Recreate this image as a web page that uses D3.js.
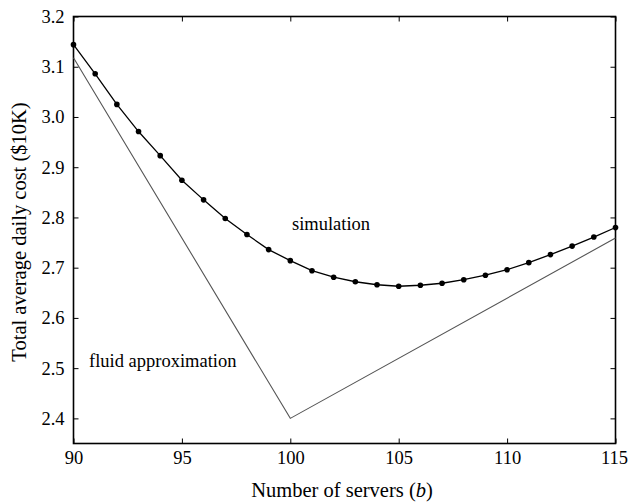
<!DOCTYPE html>
<html>
<head>
<meta charset="utf-8">
<script src="https://cdn.jsdelivr.net/npm/d3@7"></script>
<style>
html,body{margin:0;padding:0;background:#fff;}
svg{display:block;}
text{font-family:"Liberation Serif","Times New Roman",serif;fill:#000;}
</style>
</head>
<body>
<svg id="chart" width="628" height="503"></svg>
<script>
const simX = [90,91,92,93,94,95,96,97,98,99,100,101,102,103,104,105,106,107,108,109,110,111,112,113,114,115];
const simY = [3.144,3.086,3.025,2.971,2.923,2.874,2.835,2.798,2.766,2.736,2.714,2.694,2.681,2.672,2.666,2.663,2.665,2.669,2.676,2.685,2.696,2.710,2.726,2.743,2.761,2.780];
const fluidX = [90,100,115];
const fluidY = [3.118,2.400,2.759];
const xTicks = [90,95,100,105,110,115];
const yTicks = [2.4,2.5,2.6,2.7,2.8,2.9,3.0,3.1,3.2];
const xLabel = "Number of servers (";
const yLabel = "Total average daily cost ($10K)";

(function(){
const svg = d3.select("#chart");
const L = 73.5, R = 615.5, T = 16.5, B = 443.5;
const x = d3.scaleLinear().domain([90,115]).range([L,R]);
const y = d3.scaleLinear().domain([2.35,3.2]).range([B,T]);

const tickLen = 5;
const fsTick = 18.5;
const fsAnn = 18.5;
const fsTitle = 20.5;

// frame
svg.append("rect").attr("x",L).attr("y",T).attr("width",R-L).attr("height",B-T)
  .attr("fill","none").attr("stroke","#000").attr("stroke-width",1.6);

// axes with inward ticks
const gB = svg.append("g").attr("transform",`translate(0,${B})`)
  .call(d3.axisBottom(x).tickValues(xTicks).tickSizeInner(-tickLen).tickSizeOuter(0).tickPadding(7).tickFormat(d3.format("d")));
const gT = svg.append("g").attr("transform",`translate(0,${T})`)
  .call(d3.axisTop(x).tickValues(xTicks).tickSizeInner(-tickLen).tickSizeOuter(0).tickFormat(""));
const gL = svg.append("g").attr("transform",`translate(${L},0)`)
  .call(d3.axisLeft(y).tickValues(yTicks).tickSizeInner(-tickLen).tickSizeOuter(0).tickPadding(9).tickFormat(d3.format(".1f")));
const gR = svg.append("g").attr("transform",`translate(${R},0)`)
  .call(d3.axisRight(y).tickValues(yTicks).tickSizeInner(-tickLen).tickSizeOuter(0).tickFormat(""));
[gB,gT,gL,gR].forEach(g=>{
  g.select(".domain").remove();
  g.selectAll(".tick line").attr("stroke","#000").attr("stroke-width",1);
  g.selectAll(".tick text").attr("font-family",'"Liberation Serif",serif').attr("font-size",fsTick).attr("fill","#000");
});
gB.selectAll(".tick text").filter(d=>d===115).attr("dx",-1.5);

// lines
const line = d3.line().x(d=>x(d[0])).y(d=>y(d[1]));
const fluid = fluidX.map((v,i)=>[v,fluidY[i]]);
const sim = simX.map((v,i)=>[v,simY[i]]);
svg.append("path").datum(fluid).attr("d",line).attr("fill","none").attr("stroke","#555").attr("stroke-width",1.1);
svg.append("path").datum(sim).attr("d",line).attr("fill","none").attr("stroke","#000").attr("stroke-width",1.3);
svg.append("g").selectAll("circle").data(sim).join("circle")
  .attr("cx",d=>x(d[0])).attr("cy",d=>y(d[1])).attr("r",2.8).attr("fill","#000");

// annotations
svg.append("text").attr("x",292).attr("y",230).attr("font-size",fsAnn).text("simulation");
svg.append("text").attr("x",89).attr("y",367).attr("font-size",fsAnn).text("fluid approximation");

// axis labels
const xl = svg.append("text").attr("x",342).attr("y",497).attr("text-anchor","middle").attr("font-size",fsTitle);
xl.append("tspan").text(xLabel);
xl.append("tspan").attr("font-style","italic").text("b");
xl.append("tspan").text(")");
svg.append("text").attr("transform",`translate(25.5,${(T+B)/2 + 2}) rotate(-90)`).attr("text-anchor","middle")
  .attr("font-size",fsTitle).text(yLabel);
})();
</script>
</body>
</html>
